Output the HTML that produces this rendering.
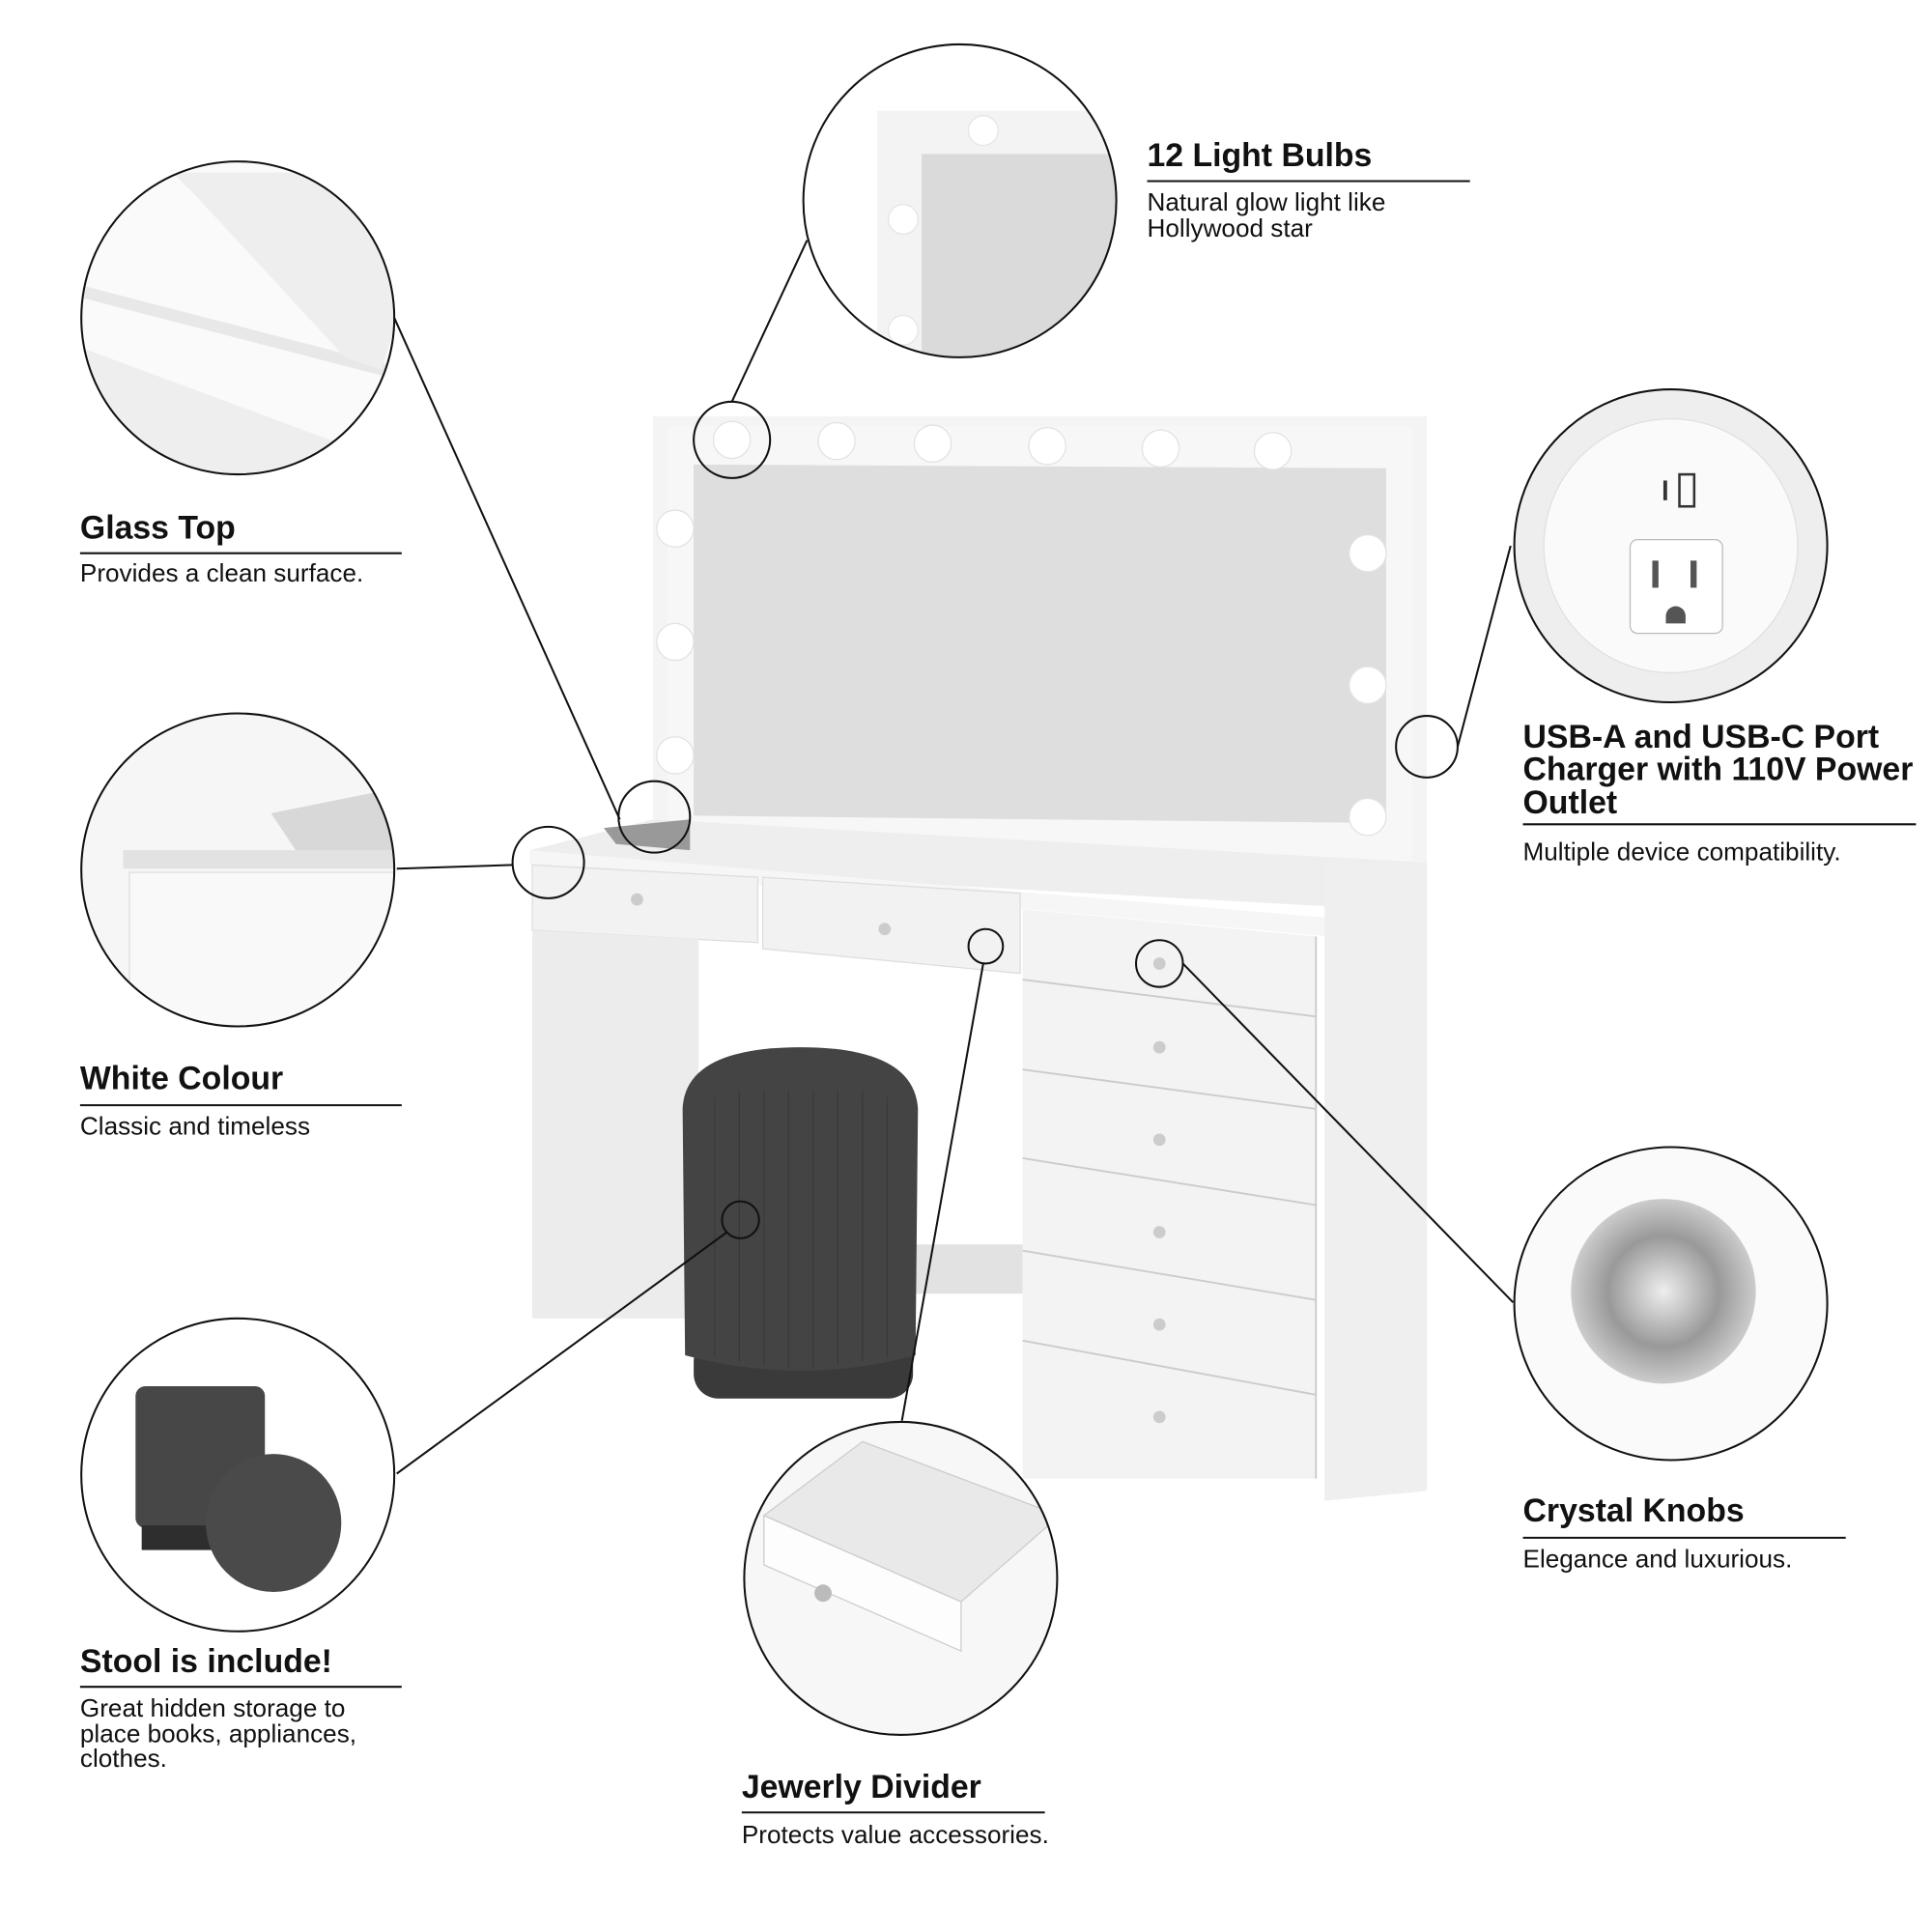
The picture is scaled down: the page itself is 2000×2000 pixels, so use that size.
<!DOCTYPE html>
<html><head><meta charset="utf-8"><style>
html,body{margin:0;padding:0;background:#fff}
svg{display:block}
.h{font-family:"Liberation Sans",sans-serif;font-weight:bold;font-size:26.5px;fill:#111}
.d{font-family:"Liberation Sans",sans-serif;font-size:20.5px;fill:#111}
.ln{stroke:#111;stroke-width:1.6;fill:none}
</style></head><body>
<svg width="2000" height="2000" viewBox="0 0 1568 1568" xmlns="http://www.w3.org/2000/svg">
<defs>
<clipPath id="c1"><circle cx="193" cy="258" r="127"/></clipPath>
<clipPath id="c2"><circle cx="779" cy="163" r="127"/></clipPath>
<clipPath id="c3"><circle cx="1356" cy="443" r="127"/></clipPath>
<clipPath id="c4"><circle cx="193" cy="706" r="127"/></clipPath>
<clipPath id="c5"><circle cx="1356" cy="1058" r="127"/></clipPath>
<clipPath id="c6"><circle cx="193" cy="1197" r="127"/></clipPath>
<clipPath id="c7"><circle cx="731" cy="1281" r="127"/></clipPath>
<radialGradient id="gk"><stop offset="0" stop-color="#eee"/><stop offset="0.6" stop-color="#999"/><stop offset="1" stop-color="#ccc"/></radialGradient>
</defs>

<rect x="530" y="338" width="628" height="370" fill="#f4f4f4"/>
<rect x="542" y="346" width="604" height="356" fill="#f7f7f7"/>
<polygon points="563,377 1125,380 1125,668 563,662" fill="#dedede"/>
<g fill="#fff" stroke="#e2e2e2" stroke-width="1">
<circle cx="594" cy="357" r="15"/><circle cx="679" cy="358" r="15"/><circle cx="757" cy="360" r="15"/>
<circle cx="850" cy="362" r="15"/><circle cx="942" cy="364" r="15"/><circle cx="1033" cy="366" r="15"/>
<circle cx="548" cy="429" r="15"/><circle cx="548" cy="521" r="15"/><circle cx="548" cy="613" r="15"/>
<circle cx="1110" cy="449" r="15"/><circle cx="1110" cy="556" r="15"/><circle cx="1110" cy="663" r="15"/>
</g>
<polygon points="430,690 530,665 1158,700 1158,740 430,700" fill="#eeeeee"/>
<polygon points="490,672 560,665 560,690 500,685" fill="#999"/>
<polygon points="430,690 1080,745 1080,760 430,702" fill="#f6f6f6"/>
<polygon points="432,702 615,712 615,765 432,755" fill="#f2f2f2" stroke="#ddd"/>
<polygon points="619,712 828,725 828,790 619,770" fill="#f2f2f2" stroke="#ddd"/>
<polygon points="432,755 567,762 567,1070 432,1070" fill="#ececec"/>
<polygon points="567,1010 830,1010 830,1050 567,1050" fill="#e2e2e2"/>
<polygon points="1075,700 1158,700 1158,1210 1075,1218" fill="#efefef"/>
<polygon points="830,738 1068,760 1068,1200 830,1200" fill="#f3f3f3"/>
<g stroke="#ccc" stroke-width="1.5" fill="none">
<path d="M830,795 L1068,825"/><path d="M830,868 L1068,900"/><path d="M830,940 L1068,978"/>
<path d="M830,1015 L1068,1055"/><path d="M830,1088 L1068,1132"/><path d="M1068,760 L1068,1200"/>
</g>
<g fill="#ccc"><circle cx="517" cy="730" r="5"/><circle cx="718" cy="754" r="5"/><circle cx="941" cy="782" r="5"/>
<circle cx="941" cy="850" r="5"/><circle cx="941" cy="925" r="5"/><circle cx="941" cy="1000" r="5"/><circle cx="941" cy="1075" r="5"/><circle cx="941" cy="1150" r="5"/></g>
<rect x="563" y="1085" width="178" height="50" rx="20" fill="#3a3a3a"/>
<path d="M554,900 Q556,850 650,850 Q742,850 745,900 L743,1100 Q650,1125 556,1100 Z" fill="#444"/>
<g stroke="#3a3a3a" stroke-width="1">
<path d="M580,890 V1100 M600,885 V1105 M620,885 V1108 M640,885 V1110 M660,885 V1110 M680,885 V1108 M700,885 V1105 M720,890 V1102"/></g>

<g clip-path="url(#c1)"><rect x="60" y="125" width="270" height="270" fill="#fafafa"/>
<polygon points="60,280 330,380 330,400 60,400" fill="#eeeeee"/><polygon points="60,230 330,300 330,310 60,240" fill="#e8e8e8"/>
<polygon points="140,140 330,140 330,230 310,300 280,290 160,160" fill="#eeeeee"/></g>
<circle cx="193" cy="258" r="127" class="ln" stroke-width="2"/>
<g clip-path="url(#c2)"><rect x="650" y="30" width="260" height="265" fill="#fff"/><rect x="712" y="90" width="200" height="210" fill="#f3f3f3"/>
<rect x="748" y="125" width="170" height="175" fill="#dadada"/>
<g fill="#fff" stroke="#e5e5e5"><circle cx="798" cy="106" r="12"/><circle cx="733" cy="178" r="12"/><circle cx="733" cy="268" r="12"/></g></g>
<circle cx="779" cy="163" r="127" class="ln" stroke-width="2"/>
<g clip-path="url(#c3)"><rect x="1225" y="312" width="265" height="265" fill="#eeeeee"/>
<circle cx="1356" cy="443" r="103" fill="#fafafa" stroke="#e0e0e0"/>
<rect x="1323" y="438" width="75" height="76" rx="6" fill="#fff" stroke="#bbb"/>
<rect x="1341" y="455" width="5" height="22" fill="#555"/><rect x="1372" y="455" width="5" height="22" fill="#555"/>
<path d="M1352,500 a8,8 0 0 1 16,0 v6 h-16 z" fill="#555"/>
<rect x="1350" y="390" width="3" height="16" fill="#333"/><rect x="1363" y="385" width="12" height="26" fill="none" stroke="#333" stroke-width="2"/></g>
<circle cx="1356" cy="443" r="127" class="ln" stroke-width="2"/>
<g clip-path="url(#c4)"><rect x="60" y="575" width="270" height="270" fill="#f6f6f6"/>
<polygon points="100,690 330,690 330,705 100,705" fill="#e2e2e2"/><rect x="105" y="708" width="225" height="140" fill="#f9f9f9" stroke="#ddd"/>
<polygon points="220,660 320,640 330,690 240,690" fill="#d8d8d8"/></g>
<circle cx="193" cy="706" r="127" class="ln" stroke-width="2"/>
<g clip-path="url(#c5)"><rect x="1225" y="928" width="265" height="265" fill="#fafafa"/>
<circle cx="1350" cy="1048" r="75" fill="url(#gk)"/></g>
<circle cx="1356" cy="1058" r="127" class="ln" stroke-width="2"/>
<g clip-path="url(#c6)"><rect x="60" y="1065" width="270" height="270" fill="#fff"/>
<rect x="110" y="1125" width="105" height="115" rx="8" fill="#474747"/><rect x="115" y="1238" width="95" height="20" fill="#2e2e2e"/>
<ellipse cx="222" cy="1236" rx="55" ry="56" fill="#4a4a4a"/></g>
<circle cx="193" cy="1197" r="127" class="ln" stroke-width="2"/>
<g clip-path="url(#c7)"><rect x="600" y="1150" width="265" height="265" fill="#f7f7f7"/>
<polygon points="620,1230 700,1170 860,1230 780,1300" fill="#e9e9e9" stroke="#ccc"/>
<polygon points="620,1230 780,1300 780,1340 620,1270" fill="#fdfdfd" stroke="#ccc"/>
<circle cx="668" cy="1293" r="7" fill="#bbb"/></g>
<circle cx="731" cy="1281" r="127" class="ln" stroke-width="2"/>

<g class="ln"><circle cx="594" cy="357" r="31"/><circle cx="531" cy="663" r="29"/><circle cx="445" cy="700" r="29"/>
<circle cx="1158" cy="606" r="25"/><circle cx="800" cy="768" r="14"/><circle cx="941" cy="782" r="19"/><circle cx="601" cy="990" r="15"/>
<line x1="320" y1="258" x2="503" y2="665"/><line x1="655" y1="195" x2="594" y2="326"/>
<line x1="1226" y1="443" x2="1183" y2="606"/><line x1="322" y1="705" x2="416" y2="702"/>
<line x1="960" y1="782" x2="1228" y2="1057"/><line x1="322" y1="1196" x2="590" y2="1000"/>
<line x1="798" y1="782" x2="732" y2="1153"/>
<line x1="65" y1="449" x2="326" y2="449"/><line x1="931" y1="147" x2="1193" y2="147"/>
<line x1="1236" y1="669" x2="1555" y2="669"/><line x1="65" y1="897" x2="326" y2="897"/>
<line x1="1236" y1="1248" x2="1498" y2="1248"/><line x1="65" y1="1369" x2="326" y2="1369"/>
<line x1="602" y1="1471" x2="848" y2="1471"/></g>

<text class="h" x="65" y="437">Glass Top</text>
<text class="d" x="65" y="472">Provides a clean surface.</text>
<text class="h" x="931" y="135">12 Light Bulbs</text>
<text class="d" x="931" y="171">Natural glow light like</text>
<text class="d" x="931" y="192">Hollywood star</text>
<text class="h" x="1236" y="607">USB-A and USB-C Port</text>
<text class="h" x="1236" y="633">Charger with 110V Power</text>
<text class="h" x="1236" y="660">Outlet</text>
<text class="d" x="1236" y="698">Multiple device compatibility.</text>
<text class="h" x="65" y="884">White Colour</text>
<text class="d" x="65" y="921">Classic and timeless</text>
<text class="h" x="1236" y="1235">Crystal Knobs</text>
<text class="d" x="1236" y="1272">Elegance and luxurious.</text>
<text class="h" x="65" y="1357">Stool is include!</text>
<text class="d" x="65" y="1393">Great hidden storage to</text>
<text class="d" x="65" y="1414">place books, appliances,</text>
<text class="d" x="65" y="1434">clothes.</text>
<text class="h" x="602" y="1459">Jewerly Divider</text>
<text class="d" x="602" y="1496">Protects value accessories.</text>
</svg>
</body></html>
